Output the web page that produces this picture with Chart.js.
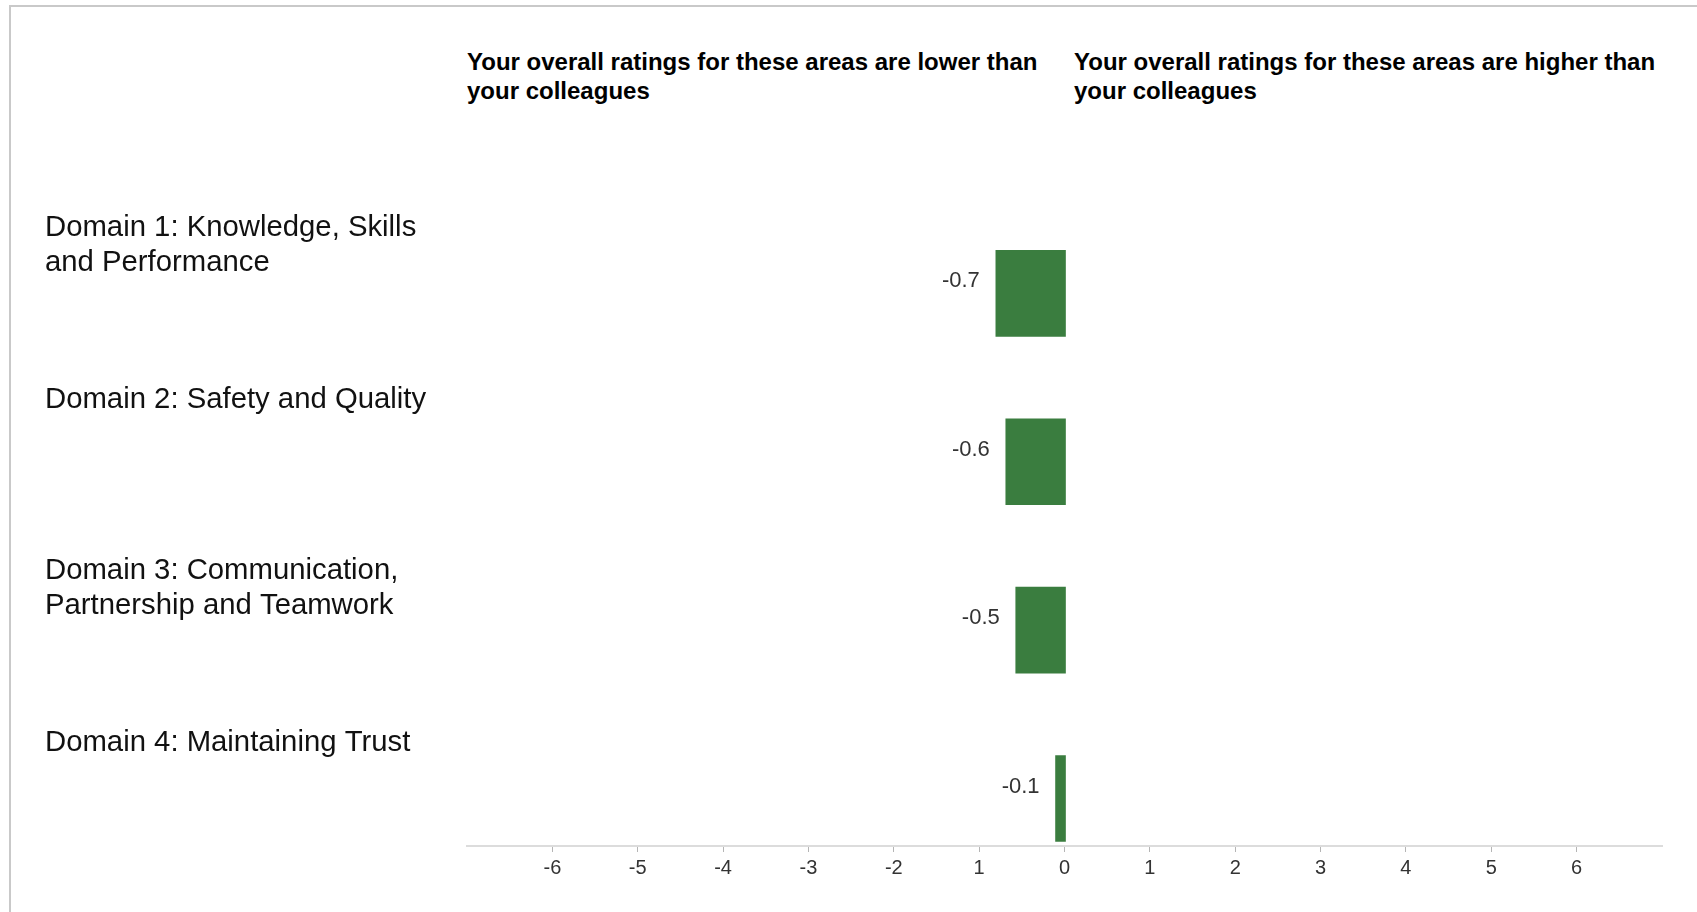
<!DOCTYPE html>
<html>
<head>
<meta charset="utf-8">
<script src="https://cdn.jsdelivr.net/npm/chart.js@4.4.1/dist/chart.umd.min.js"></script>
<style>
  html, body { margin: 0; padding: 0; background: #fff; }
  body { width: 1697px; height: 912px; position: relative; overflow: hidden;
         font-family: "Liberation Sans", Arial, Helvetica, sans-serif; }
  .frame { position: absolute; left: 9px; top: 5px; right: 0; bottom: 0;
           border-left: 2px solid #c9c9c9; border-top: 2px solid #c9c9c9; }
  .side-head { position: absolute; top: 47px; font-weight: bold; font-size: 24px;
               line-height: 29px; color: #000; white-space: nowrap; }
  #chart { position: absolute; left: 0; top: 0; }
</style>
</head>
<body>
<div class="frame"></div>
<div class="side-head" style="left:467px;">Your overall ratings for these areas are lower than<br>your colleagues</div>
<div class="side-head" style="left:1074px;">Your overall ratings for these areas are higher than<br>your colleagues</div>
<canvas id="chart" width="1697" height="912"></canvas>
<script>
// categories (one entry per line of the label)
var domains = [
  ["Domain 1: Knowledge, Skills", "and Performance"],
  ["Domain 2: Safety and Quality", ""],
  ["Domain 3: Communication,", "Partnership and Teamwork"],
  ["Domain 4: Maintaining Trust", ""]
];
var scores = [-0.7, -0.6, -0.5, -0.1];
var tickValues = [-6, -5, -4, -3, -2, -1, 0, 1, 2, 3, 4, 5, 6];
var tickLabels = ["-6", "-5", "-4", "-3", "-2", "1", "0", "1", "2", "3", "4", "5", "6"];

var valueLabels = {
  id: "valueLabels",
  afterDatasetsDraw: function (chart) {
    var ctx = chart.ctx;
    var meta = chart.getDatasetMeta(0);
    ctx.save();
    ctx.font = "22px 'Liberation Sans', Arial, sans-serif";
    ctx.fillStyle = "#333";
    ctx.textAlign = "right";
    ctx.textBaseline = "middle";
    meta.data.forEach(function (bar, i) {
      ctx.fillText(String(scores[i]), Math.min(bar.x, bar.base) - 16, bar.y - 12);
    });
    ctx.restore();
  }
};

new Chart("chart", {
  type: "bar",
  data: {
    datasets: [{
      data: scores.map(function (v, i) { return { x: v, y: i }; }),
      backgroundColor: "#3a7d3f",
      borderWidth: 0,
      barThickness: 86,
      xAxisID: "xb",
      yAxisID: "y"
    }]
  },
  options: {
    indexAxis: "y",
    responsive: false,
    animation: false,
    events: [],
    layout: { padding: { left: 45, top: 160, right: 35, bottom: 0 } },
    plugins: { legend: { display: false }, tooltip: { enabled: false } },
    scales: {
      x: {
        type: "linear",
        position: "bottom",
        min: -7,
        max: 7,
        afterBuildTicks: function (s) { s.ticks = tickValues.map(function (v) { return { value: v }; }); },
        afterFit: function (s) { s.height = 66; },
        ticks: {
          autoSkip: false,
          maxRotation: 0,
          padding: 4,
          color: "#333",
          font: { family: "'Liberation Sans', Arial, sans-serif", size: 20 },
          callback: function (v) { return tickLabels[tickValues.indexOf(v)]; }
        },
        grid: { drawOnChartArea: false, tickLength: 6, color: "#b5b5b5" },
        border: { color: "#dcdcdc", width: 2 }
      },
      // bars sit on their own hidden value scale
      xb: {
        type: "linear",
        display: false,
        min: -6.015,
        max: 5.995
      },
      y: {
        type: "linear",
        display: false,
        offset: false,
        reverse: true,
        min: -0.792,
        max: 3.282
      },
      yl: {
        type: "linear",
        position: "left",
        offset: false,
        reverse: true,
        min: -0.499,
        max: 3.501,
        afterBuildTicks: function (s) { s.ticks = domains.map(function (d, i) { return { value: i }; }); },
        afterFit: function (s) { s.width = 422; s.paddingTop = 0; s.paddingBottom = 0; },
        ticks: {
          autoSkip: false,
          crossAlign: "far",
          padding: 0,
          color: "#111",
          font: { family: "'Liberation Sans', Arial, sans-serif", size: 29.3, lineHeight: 1.2 },
          callback: function (v) { return domains[v]; }
        },
        grid: { display: false, offset: false },
        border: { display: false }
      }
    }
  },
  plugins: [valueLabels]
});
</script>
</body>
</html>
